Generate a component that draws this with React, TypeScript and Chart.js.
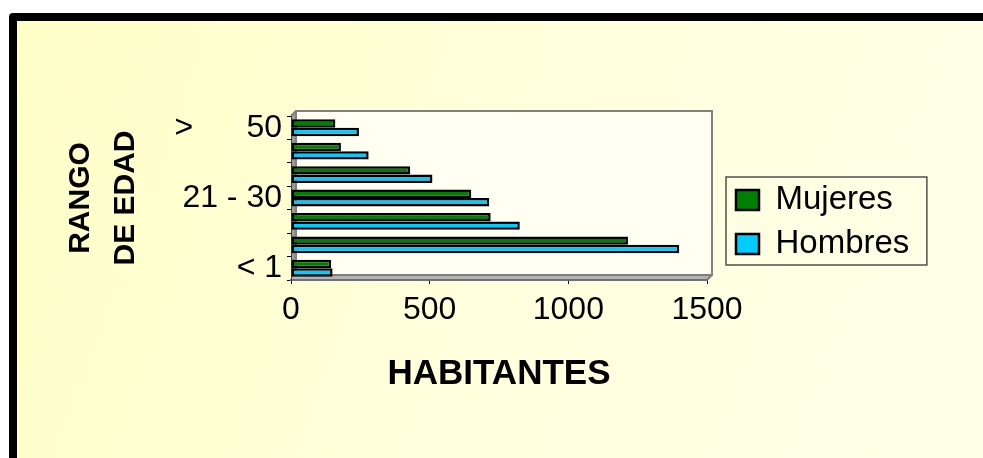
import { useEffect, useRef } from "react";
import { Chart, registerables } from "chart.js";

Chart.register(...registerables);

const CATEGORIES = ["< 1", "1 - 10", "11 - 20", "21 - 30", "31 - 40", "41 - 50", "> 50"];
const SHOWN_LABELS = ["< 1", "21 - 30", "> 50"];
const MUJERES = [145, 1215, 720, 650, 430, 180, 160];
const HOMBRES = [150, 1400, 825, 715, 510, 280, 245];
const X_TICKS = [0, 500, 1000, 1500];
const SERIES_NAMES = ["Mujeres", "Hombres"];
const X_TITLE = "HABITANTES";
const Y_TITLE = ["RANGO", "DE EDAD"];

const FONT = "'Liberation Sans', Arial, sans-serif";

const plotBox = {
  id: "plotBox",
  beforeDraw(chart: any) {
    const { ctx, chartArea: a, scales } = chart;
    const xs = scales.x;
    const x0 = xs.getPixelForValue(X_TICKS[0]);
    const x1 = xs.getPixelForValue(X_TICKS[X_TICKS.length - 1]);
    const d = 5;
    ctx.save();
    ctx.fillStyle = "#FFFFF2";
    ctx.fillRect(x0 + d, a.top - d, x1 - x0, a.bottom - a.top);
    ctx.fillStyle = "#9A9A9A";
    ctx.beginPath();
    ctx.moveTo(x0, a.top);
    ctx.lineTo(x0 + d, a.top - d);
    ctx.lineTo(x0 + d, a.bottom - d);
    ctx.lineTo(x0, a.bottom);
    ctx.closePath();
    ctx.fill();
    ctx.fillStyle = "#B4B4B4";
    ctx.beginPath();
    ctx.moveTo(x0, a.bottom);
    ctx.lineTo(x0 + d, a.bottom - d);
    ctx.lineTo(x1 + d, a.bottom - d);
    ctx.lineTo(x1, a.bottom);
    ctx.closePath();
    ctx.fill();
    ctx.strokeStyle = "#808080";
    ctx.lineWidth = 2;
    ctx.strokeRect(x0 + d, a.top - d, x1 - x0, a.bottom - a.top);
    ctx.beginPath();
    ctx.moveTo(x1, a.bottom);
    ctx.lineTo(x1 + d, a.bottom - d);
    ctx.moveTo(x0, a.top);
    ctx.lineTo(x0 + d, a.top - d);
    ctx.stroke();
    ctx.restore();
  },
  afterLayout(chart: any) {
    const lg = chart.legend;
    const a = chart.chartArea;
    if (!lg) return;
    lg.left = a.right + 18;
    lg.width = 230;
    lg.right = lg.left + lg.width;
    lg.top = a.top + 34;
    lg.bottom = a.bottom + 14;
    lg.height = lg.bottom - lg.top;
  },
  afterDraw(chart: any) {
    const lg = chart.legend;
    if (!lg || !lg.legendHitBoxes || !lg.legendHitBoxes.length) return;
    const hb = lg.legendHitBoxes;
    const first = hb[0];
    const last = hb[hb.length - 1];
    let right = 0;
    hb.forEach((h: any) => (right = Math.max(right, h.left + h.width)));
    const left = first.left - 10;
    const top = first.top - 6.5;
    const bottom = last.top + last.height + 4.5;
    const { ctx } = chart;
    ctx.save();
    ctx.strokeStyle = "#505050";
    ctx.lineWidth = 1.5;
    ctx.strokeRect(left, top, right + 17.5 - left, bottom - top);
    ctx.restore();
  },
};

export default function App() {
  const ref = useRef<HTMLCanvasElement | null>(null);

  useEffect(() => {
    const canvas = ref.current;
    if (!canvas) return;
    document.body.style.overflow = "hidden";
    const chart = new Chart(canvas, {
      type: "bar",
      data: {
        labels: CATEGORIES,
        datasets: [
          {
            label: SERIES_NAMES[0],
            data: MUJERES,
            backgroundColor: "#008000",
            borderColor: "#000000",
            borderWidth: 2.5,
            borderSkipped: false,
            categoryPercentage: 0.72,
            barPercentage: 1,
          },
          {
            label: SERIES_NAMES[1],
            data: HOMBRES,
            backgroundColor: "#00CCFF",
            borderColor: "#000000",
            borderWidth: 2.5,
            borderSkipped: false,
            categoryPercentage: 0.72,
            barPercentage: 1,
          },
        ],
      },
      options: {
        indexAxis: "y",
        animation: false,
        responsive: false,
        devicePixelRatio: 1,
        layout: { padding: { top: 116, right: 126, bottom: 0, left: 0 } },
        plugins: {
          tooltip: { enabled: false },
          legend: {
            position: "right",
            fullSize: false,
            maxWidth: 150,
            labels: {
              boxWidth: 23,
              boxHeight: 20,
              padding: 11,
              color: "#000000",
              font: { family: FONT, size: 33 },
            },
          },
        },
        scales: {
          x: {
            type: "linear",
            min: X_TICKS[0],
            max: X_TICKS[X_TICKS.length - 1],
            afterBuildTicks: (s: any) => {
              s.ticks = X_TICKS.map((v) => ({ value: v }));
            },
            afterFit: (s: any) => {
              s.height = 178;
            },
            grid: { drawOnChartArea: false, drawTicks: true, tickLength: 4, color: "#000000" },
            border: { display: true, color: "#707070", width: 2 },
            ticks: {
              padding: 7,
              color: "#000000",
              font: { family: FONT, size: 32 },
              maxRotation: 0,
              callback: (v: any) => String(v),
            },
            title: {
              display: true,
              text: X_TITLE,
              color: "#000000",
              font: { family: FONT, size: 35, weight: "bold", lineHeight: 1.2 },
              padding: { top: 0, bottom: 63 },
            },
          },
          y: {
            type: "category",
            reverse: true,
            afterFit: (s: any) => {
              s.width = 291;
            },
            grid: { offset: true, drawOnChartArea: false, drawTicks: true, tickLength: 4, color: "#000000" },
            border: { display: true, color: "#404040", width: 1 },
            ticks: {
              autoSkip: false,
              padding: 5,
              color: "#000000",
              font: { family: FONT, size: 32 },
              callback: (_v: any, i: number) => {
                const label = CATEGORIES[i];
                if (!SHOWN_LABELS.includes(label)) return "";
                return label.startsWith(">") ? label.replace(" ", "      ") : label;
              },
            },
            title: {
              display: true,
              text: Y_TITLE,
              color: "#000000",
              font: { family: FONT, size: 30, weight: "bold", lineHeight: 1.5 },
              padding: { top: 58.5, bottom: 0 },
            },
          },
        },
      },
      plugins: [plotBox],
    } as any);
    return () => chart.destroy();
  }, []);

  return (
    <div
      style={{
        position: "fixed",
        left: 0,
        top: 0,
        width: 983,
        height: 458,
        overflow: "hidden",
        background: "#ffffff",
      }}
    >
      <div
        style={{
          position: "absolute",
          left: 9,
          top: 13,
          width: 1200,
          height: 600,
          border: "8px solid #000000",
          borderRadius: 4,
          background: "linear-gradient(110deg, #FFFFC8 0%, #FFFFDC 40%, #FFFFE8 75%, #FFFFE4 100%)",
        }}
      />
      <canvas
        ref={ref}
        width={983}
        height={458}
        style={{ position: "absolute", left: 0, top: 0, width: 983, height: 458, display: "block" }}
      />
    </div>
  );
}
